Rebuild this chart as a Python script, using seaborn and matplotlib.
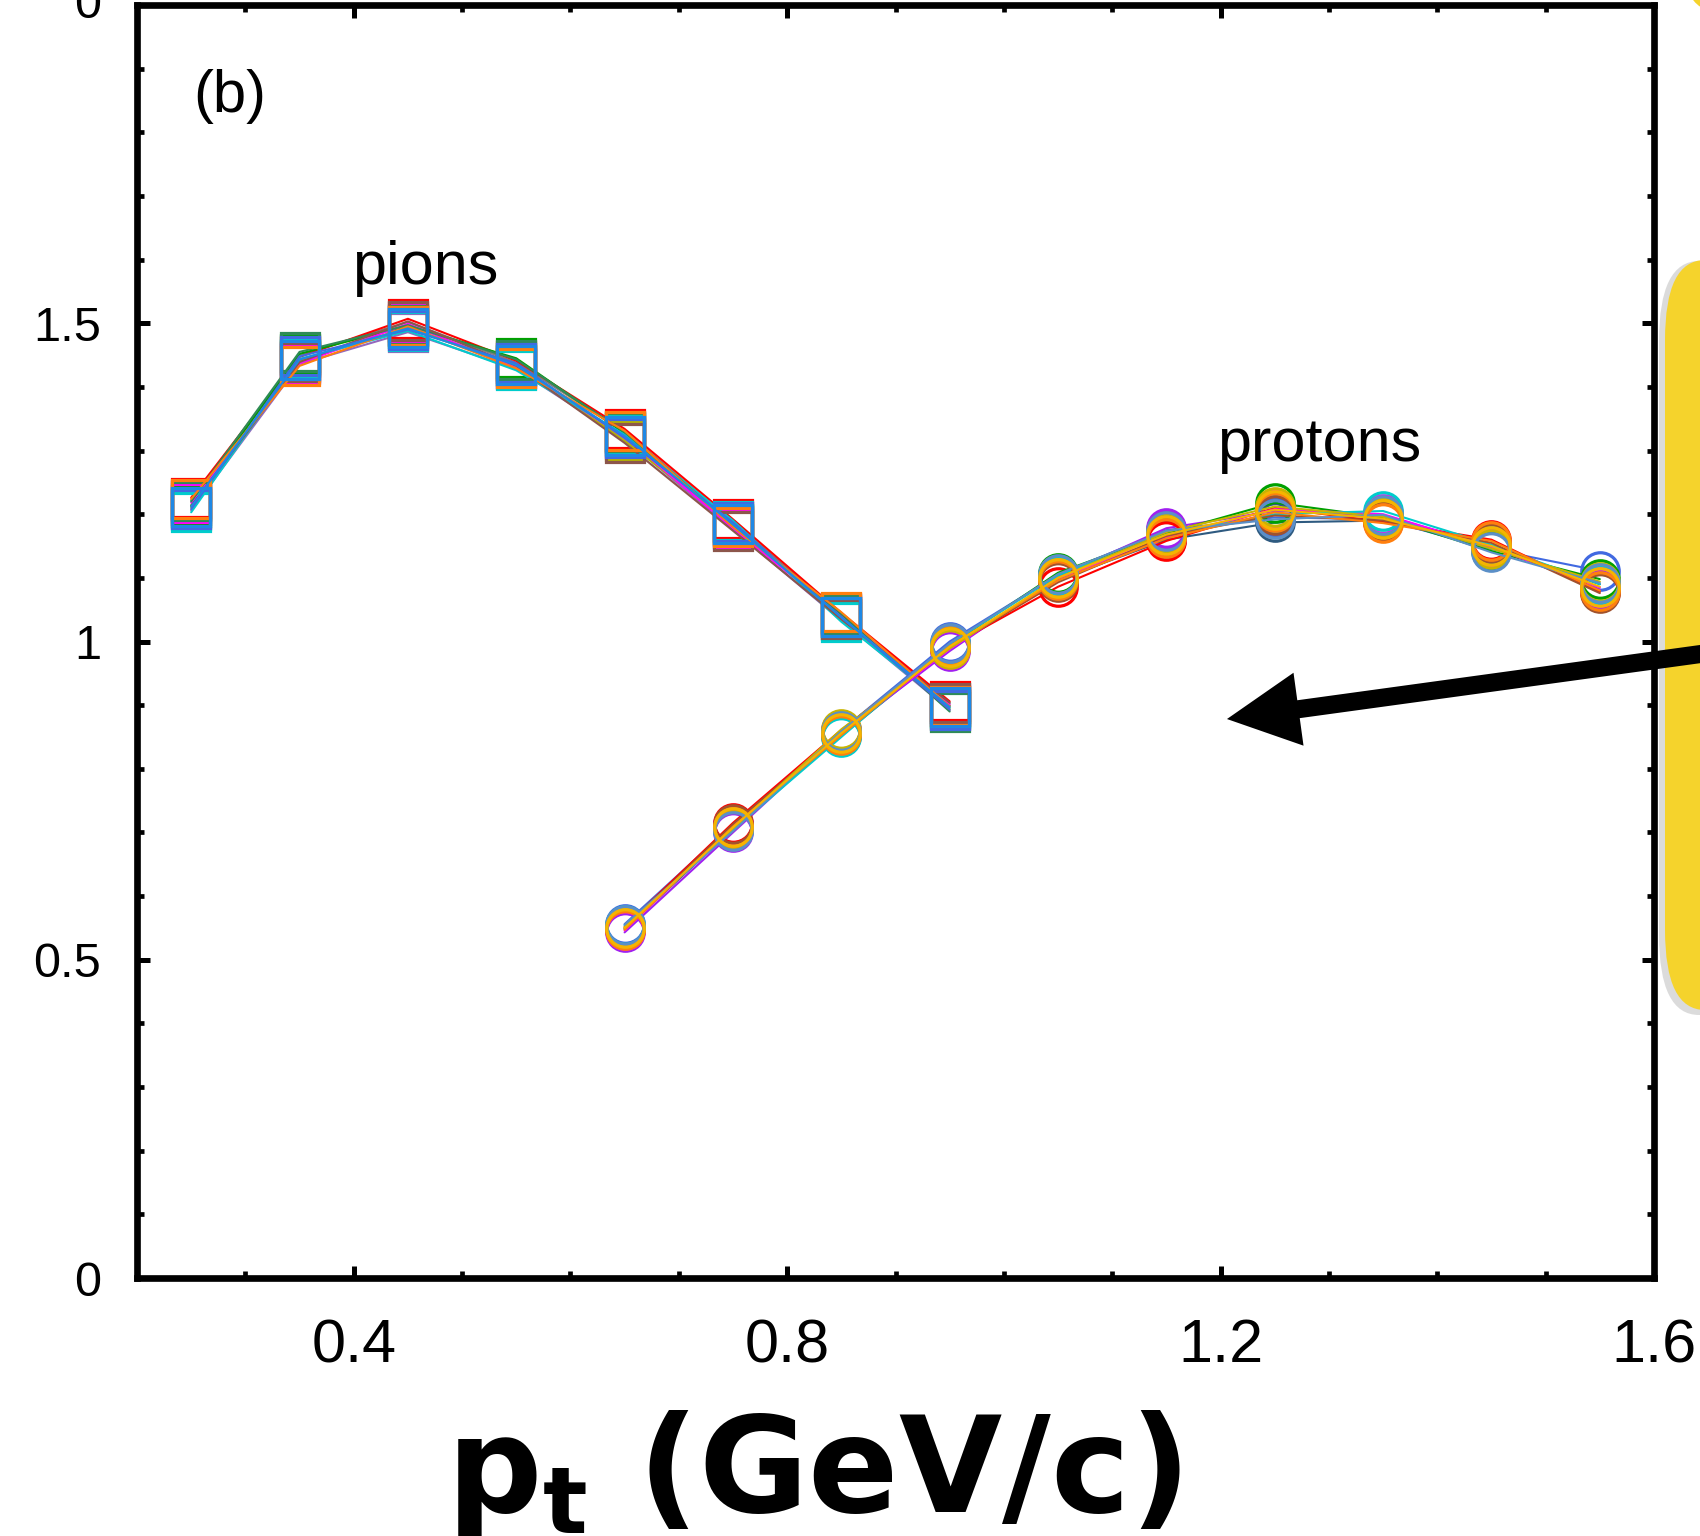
import numpy as np
import pandas as pd
import matplotlib
matplotlib.use('Agg')
import matplotlib.pyplot as plt
import seaborn as sns
from matplotlib.patches import FancyBboxPatch, FancyArrowPatch, ArrowStyle
from matplotlib.transforms import Affine2D
from matplotlib.ticker import MultipleLocator, FixedLocator

# ---------------- data ----------------
pion_pt = [0.25, 0.35, 0.45, 0.55, 0.65, 0.75, 0.85, 0.95]
pi01 = [1.222, 1.450, 1.502, 1.438, 1.330, 1.188, 1.042, 0.903]
pi02 = [1.206, 1.436, 1.486, 1.428, 1.318, 1.176, 1.033, 0.892]
pi03 = [1.226, 1.447, 1.507, 1.441, 1.334, 1.192, 1.045, 0.906]
pi04 = [1.214, 1.452, 1.496, 1.445, 1.327, 1.181, 1.039, 0.899]
pi05 = [1.210, 1.441, 1.493, 1.435, 1.315, 1.185, 1.036, 0.894]
pi06 = [1.218, 1.437, 1.499, 1.430, 1.322, 1.178, 1.040, 0.901]
pi07 = [1.203, 1.444, 1.488, 1.426, 1.325, 1.190, 1.031, 0.896]
pi08 = [1.220, 1.455, 1.497, 1.443, 1.329, 1.183, 1.043, 0.890]
pi09 = [1.212, 1.439, 1.503, 1.433, 1.312, 1.174, 1.035, 0.904]
pi10 = [1.208, 1.448, 1.490, 1.437, 1.320, 1.187, 1.038, 0.893]
pi11 = [1.224, 1.433, 1.495, 1.429, 1.331, 1.180, 1.046, 0.898]
pi12 = [1.212, 1.443, 1.492, 1.434, 1.323, 1.184, 1.038, 0.897]
pion_series = [pi01, pi02, pi03, pi04, pi05, pi06, pi07, pi08, pi09, pi10, pi11, pi12]
pion_colors = ['#7f7f7f', '#9467bd', '#ff0000', '#00a000', '#b5b500', '#ff00ff',
               '#00cccc', '#2e8b57', '#8c564b', '#4169e1', '#ff7f0e', '#1e88e5']

proton_pt = [0.65, 0.75, 0.85, 0.95, 1.05, 1.15, 1.25, 1.35, 1.45, 1.55]
pr01 = [0.548, 0.705, 0.852, 0.990, 1.097, 1.160, 1.187, 1.190, 1.150, 1.090]
pr02 = [0.556, 0.712, 0.860, 1.000, 1.105, 1.175, 1.195, 1.192, 1.145, 1.111]
pr03 = [0.543, 0.700, 0.856, 0.985, 1.102, 1.178, 1.205, 1.198, 1.150, 1.082]
pr04 = [0.552, 0.715, 0.861, 0.992, 1.086, 1.158, 1.210, 1.188, 1.160, 1.078]
pr05 = [0.550, 0.708, 0.855, 0.994, 1.108, 1.170, 1.218, 1.195, 1.142, 1.098]
pr06 = [0.546, 0.711, 0.858, 0.988, 1.099, 1.164, 1.208, 1.200, 1.148, 1.085]
pr07 = [0.554, 0.704, 0.850, 0.996, 1.104, 1.168, 1.200, 1.205, 1.152, 1.090]
pr08 = [0.549, 0.713, 0.857, 0.991, 1.093, 1.166, 1.198, 1.190, 1.155, 1.076]
pr09 = [0.551, 0.706, 0.862, 0.989, 1.100, 1.172, 1.212, 1.196, 1.146, 1.094]
pr10 = [0.547, 0.709, 0.853, 0.993, 1.096, 1.162, 1.203, 1.186, 1.158, 1.080]
pr11 = [0.555, 0.702, 0.859, 0.997, 1.106, 1.174, 1.192, 1.199, 1.140, 1.092]
pr12 = [0.550, 0.708, 0.856, 0.992, 1.100, 1.168, 1.207, 1.193, 1.150, 1.086]
proton_series = [pr01, pr02, pr03, pr04, pr05, pr06, pr07, pr08, pr09, pr10, pr11, pr12]
proton_colors = ['#2e5a80', '#4169e1', '#a020f0', '#ff0000', '#00a000', '#ff00ff',
                 '#00cccc', '#a0522d', '#c8b400', '#ff7f0e', '#5b8fc7', '#f5b400']

x_major = [0.4, 0.8, 1.2, 1.6]
x_labels = ['0.4', '0.8', '1.2', '1.6']
y_major = [0, 0.5, 1, 1.5, 2]
y_labels = ['0', '0.5', '1', '1.5', '']

# ---------------- style ----------------
sns.set_theme(style='white')
plt.rcParams['font.family'] = ['Liberation Sans', 'DejaVu Sans']
plt.rcParams['mathtext.fontset'] = 'dejavusans'

W, H = 1700, 1536
fig = plt.figure(figsize=(W / 100, H / 100), dpi=100)
ax_l, ax_r, ax_t, ax_b = 137, 1654, 5, 1278
ax = fig.add_axes([ax_l / W, (H - ax_b) / H, (ax_r - ax_l) / W, (ax_b - ax_t) / H])
ax.set_facecolor('white')

def build(pt, series, name):
    rows = []
    for i, vals in enumerate(series):
        for x, v in zip(pt, vals):
            rows.append({'pt': x, 'ratio': v, 'series': f'{name}{i:02d}'})
    return pd.DataFrame(rows)

df_pi = build(pion_pt, pion_series, 'pi')
df_pr = build(proton_pt, proton_series, 'pr')

common = dict(x='pt', y='ratio', hue='series', estimator=None, sort=False,
              legend=False, ax=ax, lw=1.5, markersize=27,
              markerfacecolor='none', markeredgewidth=2.3)
n0 = len(ax.lines)
sns.lineplot(data=df_pi, palette=pion_colors, marker='s', **common)
sns.lineplot(data=df_pr, palette=proton_colors, marker='o', **common)
for ln in ax.lines[n0:]:
    ln.set_markeredgecolor(ln.get_color())
    ln.set_markerfacecolor('none')

ax.set_xlim(0.2, 1.6)
ax.set_ylim(0, 2)
ax.xaxis.set_major_locator(FixedLocator(x_major))
ax.set_xticklabels(x_labels)
ax.xaxis.set_minor_locator(MultipleLocator(0.1))
ax.yaxis.set_major_locator(FixedLocator(y_major))
ax.set_yticklabels(y_labels)
ax.yaxis.set_minor_locator(MultipleLocator(0.1))

for s in ax.spines.values():
    s.set_visible(True)
    s.set_color('black')
    s.set_linewidth(4.8)

ax.tick_params(which='both', direction='in', top=True, right=True,
               bottom=True, left=True, color='black')
ax.tick_params(which='major', length=9, width=3.6)
ax.tick_params(which='minor', length=4.8, width=3.4)
ax.tick_params(axis='x', which='major', labelsize=44, pad=29, labelcolor='black')
ax.tick_params(axis='y', which='major', labelsize=35, pad=26, labelcolor='black')

# top label (from panel above), partially clipped by figure edge
ax.text(-0.0237, 2.0, '0', transform=ax.get_yaxis_transform(), ha='right',
        va='center', fontsize=35, color='black', clip_on=False)

# annotations
ax.text(0.2517, 1.857, '(b)', fontsize=43, ha='left', va='center', color='black')
ax.text(0.466, 1.562, 'pions', fontsize=44, ha='center', va='baseline', color='black')
ax.text(1.291, 1.283, 'protons', fontsize=44, ha='center', va='baseline', color='black')

ax.set_xlabel(r'$\mathbf{p_t}$ (GeV/c)', fontsize=96, fontweight='bold',
              family='DejaVu Sans', color='black')
ax.xaxis.label.set_va('baseline')
ax.xaxis.set_label_coords(0.4456, -(1512 - ax_b) / (ax_b - ax_t))
ax.set_ylabel('')

# arrow (filled shape: widths in points)
astyle = ArrowStyle('simple', head_length=52, head_width=53, tail_width=13)
arrow = FancyArrowPatch(posA=(1.698, 0.9932), posB=(1.2059, 0.8782),
                        arrowstyle=astyle, mutation_scale=1, lw=0,
                        facecolor='black', edgecolor='none',
                        shrinkA=0, shrinkB=0, clip_on=False, zorder=10)
ax.add_patch(arrow)

# yellow callout boxes on the right (elliptical corners)
tr = Affine2D().scale(1, 2) + fig.dpi_scale_trans
yellow = '#F5D32C'
shadow = FancyBboxPatch((16.59, 2.605), 2.5, 3.77, boxstyle='round,pad=0,rounding_size=0.4',
                        transform=tr, facecolor='#b0b0b0', edgecolor='none', alpha=0.45,
                        zorder=-2)
box = FancyBboxPatch((16.65, 2.63), 2.5, 3.75, boxstyle='round,pad=0,rounding_size=0.4',
                     transform=tr, facecolor=yellow, edgecolor='none', zorder=-1)
box2 = FancyBboxPatch((16.78, 7.62), 2.5, 2.0, boxstyle='round,pad=0,rounding_size=0.4',
                      transform=tr, facecolor=yellow, edgecolor='none', zorder=-1)
fig.add_artist(shadow)
fig.add_artist(box)
fig.add_artist(box2)

fig.savefig('out.png', dpi=100, facecolor='white')
